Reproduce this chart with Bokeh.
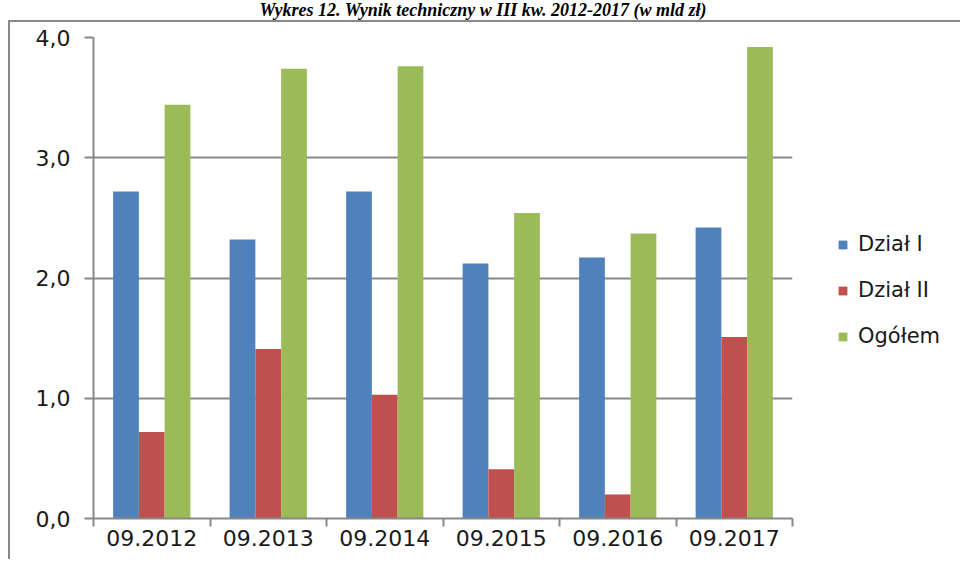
from bokeh.plotting import figure
from bokeh.layouts import column
from bokeh.models import (Range1d, FixedTicker, CustomJSTickFormatter, Legend, LegendItem,
                          ColumnDataSource, Div)
from bokeh.embed import file_html
from bokeh.resources import INLINE

# ---- data ----
categories = ["09.2012", "09.2013", "09.2014", "09.2015", "09.2016", "09.2017"]
dzial_1 = [2.72, 2.32, 2.72, 2.12, 2.17, 2.42]
dzial_2 = [0.72, 1.41, 1.03, 0.41, 0.20, 1.51]
ogolem = [3.44, 3.74, 3.76, 2.54, 2.37, 3.92]
series_names = ["Dział I", "Dział II", "Ogółem"]
y_ticks = [0, 1, 2, 3, 4]
title_text = "Wykres 12. Wynik techniczny w III kw. 2012-2017 (w mld zł)"

colors = ["#4F81BD", "#C0504D", "#9BBB59"]
GREY = "#888888"
FONT = "DejaVu Sans"

n = len(categories)
centers = [i + 0.5 for i in range(n)]
bar_w = 0.221
offsets = [-bar_w, 0.0, bar_w]

title_div = Div(text=title_text, width=950, height=20, margin=(0, 0, 0, 8),
                styles={"font-family": "'Liberation Serif', serif", "font-weight": "bold",
                        "font-style": "italic", "font-size": "18px", "text-align": "center",
                        "line-height": "20px", "color": "#000000"})

p = figure(frame_width=697, frame_height=479,
           x_range=Range1d(0, n), y_range=Range1d(0, 4),
           output_backend="svg", toolbar_location=None,
           min_border_left=83, min_border_right=150,
           min_border_top=15, min_border_bottom=43)
p.margin = (0, 0, 0, 8)
p.styles = {"border-left": f"2px solid {GREY}", "border-top": f"2px solid {GREY}"}
p.outline_line_color = None
p.background_fill_color = "white"
p.border_fill_color = "white"

renderers = []
for vals, off, col in zip([dzial_1, dzial_2, ogolem], offsets, colors):
    src = ColumnDataSource(dict(x=[c + off for c in centers], top=vals))
    r = p.vbar(x="x", top="top", width=bar_w, bottom=0, source=src,
               fill_color=col, line_color=None)
    renderers.append(r)

# x axis: labels at centres, tick marks at category boundaries
p.xaxis.ticker = FixedTicker(ticks=centers, minor_ticks=list(range(n + 1)))
p.xaxis.major_label_overrides = {c: lab for c, lab in zip(centers, categories)}
p.xaxis.major_tick_line_color = None
p.xaxis.major_tick_out = 0
p.xaxis.major_tick_in = 0
p.xaxis.minor_tick_line_color = GREY
p.xaxis.minor_tick_line_width = 2
p.xaxis.minor_tick_out = 8
p.xaxis.minor_tick_in = 0
p.xaxis.major_label_standoff = 3
p.xgrid.grid_line_color = None

# y axis
p.yaxis.ticker = FixedTicker(ticks=y_ticks)
p.yaxis.formatter = CustomJSTickFormatter(code="return tick.toFixed(1).replace('.', ',');")
p.yaxis.major_tick_out = 9
p.yaxis.major_tick_in = 0
p.yaxis.major_tick_line_color = GREY
p.yaxis.major_tick_line_width = 2
p.yaxis.minor_tick_line_color = None
p.yaxis.major_label_standoff = 14
p.ygrid.ticker = FixedTicker(ticks=y_ticks)
p.ygrid.grid_line_color = GREY
p.ygrid.grid_line_width = 2

for ax in (p.xaxis, p.yaxis):
    ax.axis_line_color = GREY
    ax.axis_line_width = 2
    ax.major_label_text_font = FONT
    ax.major_label_text_font_size = "22px"
    ax.major_label_text_color = "#1a1a1a"

legend = Legend(items=[LegendItem(label=nm, renderers=[r]) for nm, r in zip(series_names, renderers)],
                location=(45, 170), orientation="vertical",
                padding=0, margin=0, spacing=22,
                glyph_width=11, glyph_height=11, label_height=20,
                label_standoff=10, label_text_font=FONT, label_text_font_size="21px",
                label_text_color="#1a1a1a",
                background_fill_alpha=0, border_line_color=None)
p.add_layout(legend, "right")

layout = column(title_div, p, spacing=0)
open("out.html", "w").write(file_html(layout, INLINE))
